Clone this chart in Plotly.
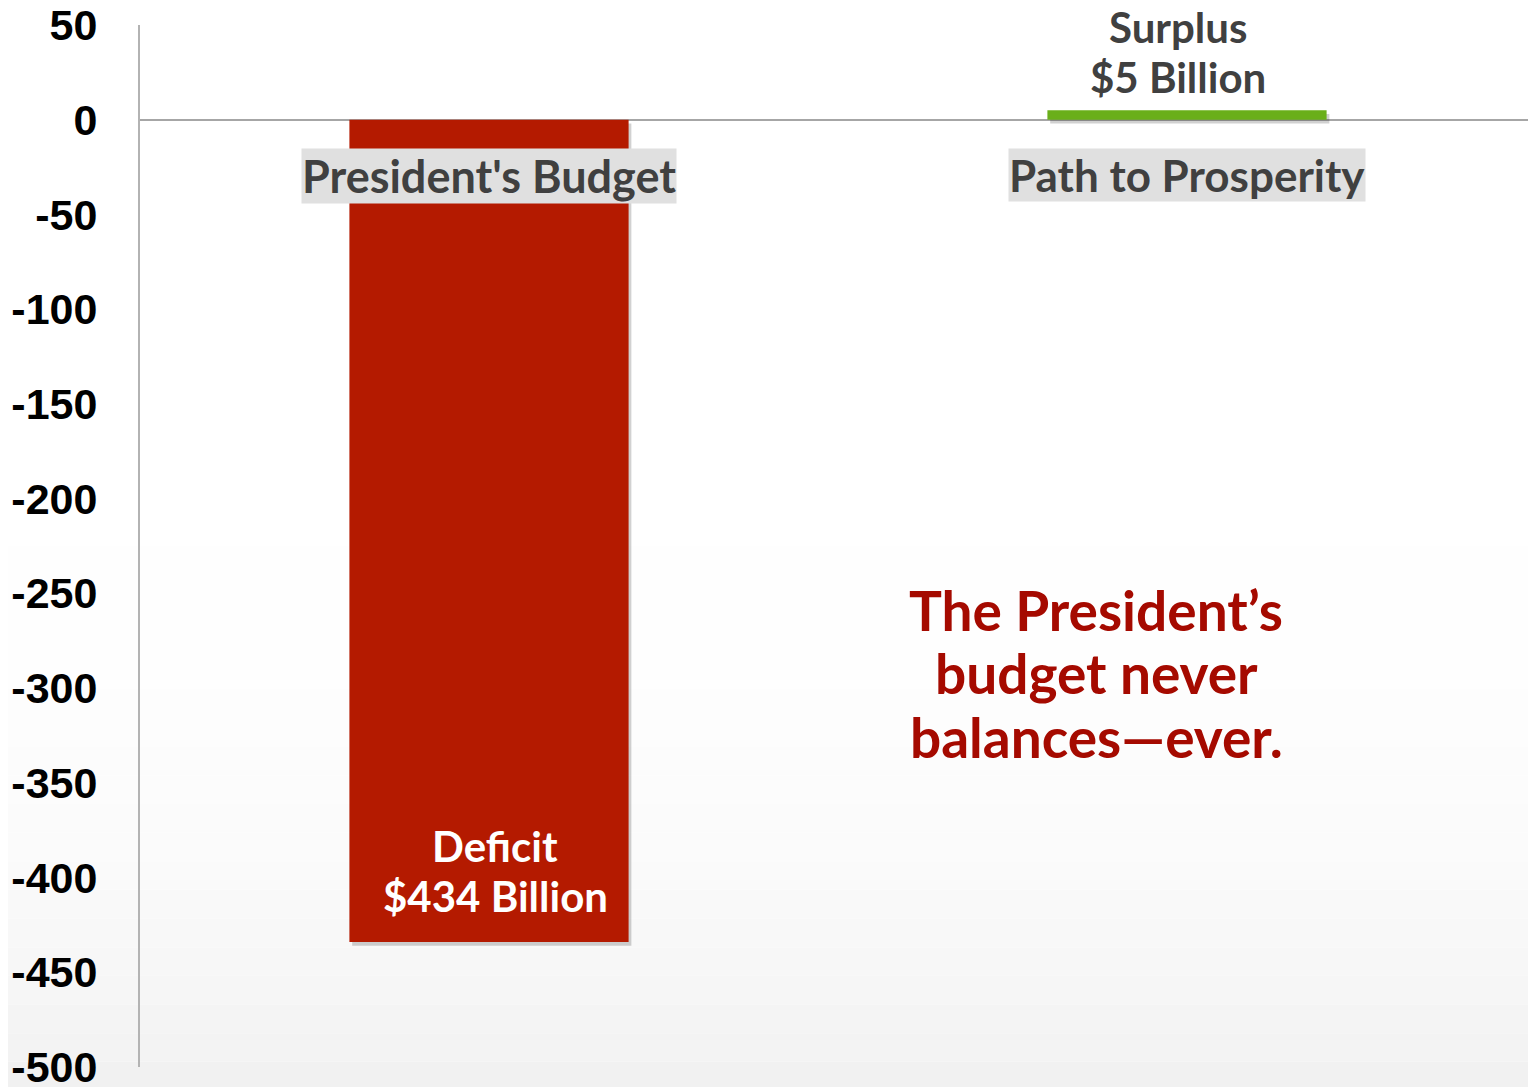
import plotly.graph_objects as go

categories = ["President's Budget", "Path to Prosperity"]
values = [-434, 5]
bar_colors = ["#b41a00", "#6aaf1a"]
deficit_lines = ["Deficit", "$434 Billion"]
surplus_lines = ["Surplus", "$5 Billion"]
y_ticks = [50, 0, -50, -100, -150, -200, -250, -300, -350, -400, -450, -500]
message_lines = ["The President’s", "budget never", "balances—ever."]

TEXT_FONT = "Lato"

fig = go.Figure()

# soft shadow behind bars
fig.add_trace(go.Bar(
    x=categories, y=values, base=[-2, -2], offset=-0.196, width=0.4,
    marker=dict(color="rgba(0,0,0,0.18)", line=dict(width=0)),
    hoverinfo="skip", showlegend=False,
))
fig.add_trace(go.Bar(
    x=categories, y=values,
    marker=dict(color=bar_colors, line=dict(width=0)),
    width=0.4, offset=-0.2,
    showlegend=False,
))

# background gradient (white top -> light grey bottom)
n = 40
for i in range(n):
    t = i / (n - 1)
    g = 255 - int(round(16 * t ** 5))
    fig.add_shape(type="rect", xref="paper", yref="paper",
                  x0=-0.2, x1=1.05,
                  y0=1.05 - 1.1 * (i + 1) / n, y1=1.05 - 1.1 * i / n,
                  fillcolor=f"rgb({g},{g},{g})", line=dict(width=0), layer="below")

# category labels with grey boxes, just below the zero line
for c, size in zip(categories, [45, 44]):
    fig.add_annotation(x=c, y=0, yref="y", yanchor="top", yshift=-28,
                       text=f"<b>{c}</b>", showarrow=False,
                       bgcolor="#e0e0e0", borderpad=0,
                       font=dict(family=TEXT_FONT, size=size, color="#404040"))

# deficit label inside the red bar (bottom)
for line, shift in zip(deficit_lines, [96, 46]):
    fig.add_annotation(x=categories[0], y=values[0], yanchor="middle", yshift=shift,
                       xanchor="center", xshift=6,
                       text=f"<b>{line}</b>", showarrow=False,
                       font=dict(family=TEXT_FONT, size=42, color="#ffffff"))

# surplus label above the green bar
for line, shift in zip(surplus_lines, [83, 33]):
    fig.add_annotation(x=categories[1], y=values[1], yanchor="middle", yshift=shift,
                       xanchor="center", xshift=-9,
                       text=f"<b>{line}</b>", showarrow=False,
                       font=dict(family=TEXT_FONT, size=42, color="#404040"))

# message
for line, py in zip(message_lines, [0.4386, 0.378, 0.3167]):
    fig.add_annotation(xref="paper", yref="paper", x=0.685, y=py,
                       xanchor="center", yanchor="middle",
                       text=f"<b>{line}</b>", showarrow=False,
                       font=dict(family=TEXT_FONT, size=55, color="#a50a00"))

fig.update_layout(
    width=1528, height=1079,
    margin=dict(l=132, r=0, t=17, b=20, autoexpand=False),
    paper_bgcolor="white", plot_bgcolor="rgba(0,0,0,0)",
    barmode="overlay",
    xaxis=dict(showticklabels=False, showgrid=False, zeroline=False, showline=False,
               range=[-0.5, 1.5], automargin=False),
    yaxis=dict(range=[-500, 50], tickvals=y_ticks, ticktext=[str(v) for v in y_ticks],
               showgrid=False, zeroline=True, zerolinecolor="#a6a6a6", zerolinewidth=2,
               showline=True, linecolor="#b3b3b3", linewidth=2, ticks="",
               ticklabelstandoff=32, ticklabeloverflow="allow", automargin=False,
               tickfont=dict(family="Liberation Sans", size=43, color="#000000", weight="bold")),
)

fig.write_html("out.html")
